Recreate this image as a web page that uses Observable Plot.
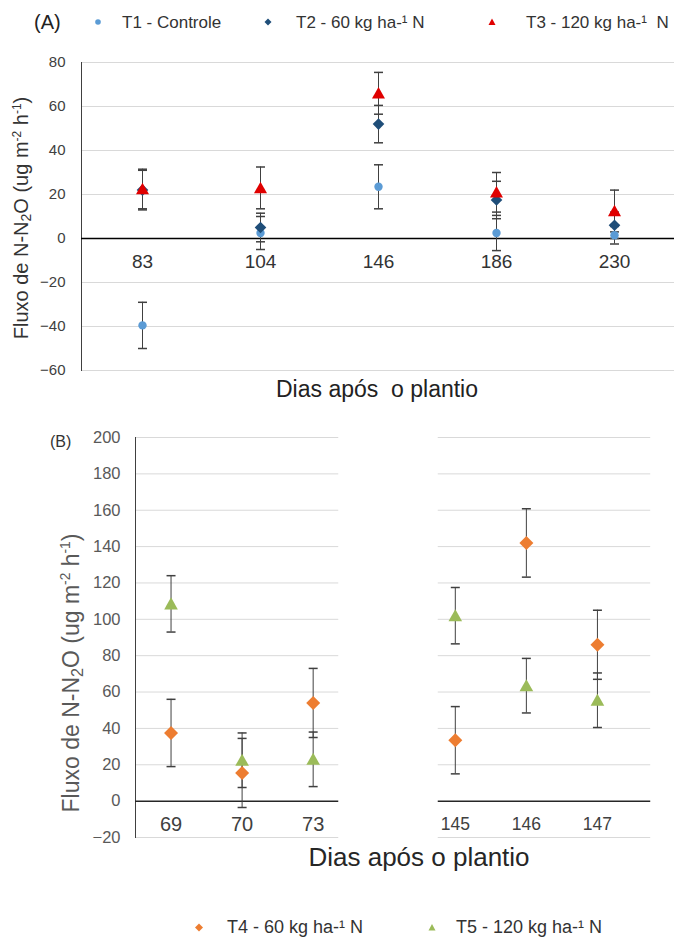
<!DOCTYPE html>
<html><head><meta charset="utf-8">
<script src="https://cdn.jsdelivr.net/npm/d3@7"></script>
<script src="https://cdn.jsdelivr.net/npm/@observablehq/plot@0.6"></script>
<style>
body{margin:0;background:#fff;font-family:Arial,"Liberation Sans",sans-serif;}
#fig{position:relative;width:674px;height:937px;overflow:hidden;background:#fff;}
.abs{position:absolute;white-space:pre;line-height:1;}
.lg{position:absolute;white-space:pre;font-size:17px;color:#333;line-height:1;}
.lgb{position:absolute;white-space:pre;font-size:18px;color:#333;line-height:1;}
.ylab{position:absolute;white-space:pre;transform:translate(-50%,-50%) rotate(-90deg);line-height:1;}
.xlab{position:absolute;white-space:pre;transform:translate(-50%,-50%);line-height:1;}
sub{font-size:70%;vertical-align:-0.25em;}
sup{font-size:60%;vertical-align:0.6em;}
#plotA{position:absolute;left:0;top:40px;}
#plotB{position:absolute;left:0;top:420px;}
</style></head><body>
<div id="fig">
  <div class="abs" style="left:34px;top:12px;font-size:20px;color:#222;">(A)</div>
  <svg class="abs" style="left:0;top:0" width="674" height="40">
    <circle cx="98" cy="22" r="2.8" fill="#5b9bd5"/>
    <path d="M268,18.5L271.5,22L268,25.5L264.5,22Z" fill="#1f4e79"/>
    <path d="M492,18.5L495.5,25L488.5,25Z" fill="#e00000"/>
  </svg>
  <div class="lg" style="left:122px;top:14px;">T1 - Controle</div>
  <div class="lg" style="left:296px;top:14px;">T2 - 60 kg ha-¹ N</div>
  <div class="lg" style="left:526px;top:14px;">T3 - 120 kg ha-¹  N</div>
  <div id="plotA"></div>
  <div class="ylab" style="left:22px;top:218px;font-size:20px;color:#333;">Fluxo de N-N<sub>2</sub>O (ug m<sup>-2</sup> h<sup>-1</sup>)</div>
  <div class="xlab" style="left:377px;top:389px;font-size:23px;color:#222;">Dias após  o plantio</div>

  <div class="abs" style="left:50px;top:434px;font-size:16px;color:#333;">(B)</div>
  <div id="plotB"></div>
  <div class="ylab" style="left:72px;top:673px;font-size:23px;color:#595959;">Fluxo de N-N<sub>2</sub>O (ug m<sup>-2</sup> h<sup>-1</sup>)</div>
  <div class="xlab" style="left:419px;top:857px;font-size:26px;color:#262626;">Dias após o plantio</div>
  <svg class="abs" style="left:0;top:900px" width="674" height="37">
    <path d="M199,23.5L203,27.5L199,31.5L195,27.5Z" fill="#ed7d31"/>
    <path d="M432,24L435.5,30.5L428.5,30.5Z" fill="#9bbb59"/>
  </svg>
  <div class="lgb" style="left:227px;top:918px;">T4 - 60 kg ha-¹ N</div>
  <div class="lgb" style="left:456px;top:918px;">T5 - 120 kg ha-¹ N</div>
</div>
<script>
// ---------- Panel A data (days after planting) ----------
const daysA = ["83", "104", "146", "186", "230"];
const t1Mean = [-39.5, 2.5, 23.5, 2.5, 1.5];
const t1Err  = [10.5, 7.5, 10, 8, 4];
const t2Mean = [22, 5, 52, 17.5, 6];
const t2Err  = [9, 6.5, 8.5, 8.5, 6];
const t3Mean = [22.5, 23, 66, 21, 12.5];
const t3Err  = [9, 9.5, 9.5, 9, 9.5];
const ticksA = [-60, -40, -20, 0, 20, 40, 60, 80];

// ---------- Panel B data ----------
const daysB  = ["69", "70", "73", "145", "146", "147"];
const slotB  = [0, 1, 2, 4, 5, 6];           // slot index on the x axis (gap between campaigns)
const t4Mean = [37.5, 15.5, 54, 33.5, 142, 86];
const t4Err  = [18.5, 19, 19, 18.5, 18.8, 19];
const t5Mean = [108.5, 22.5, 23, 102, 63.5, 55.5];
const t5Err  = [15.5, 15, 15, 15.5, 15, 15];
const ticksB = [-20, 0, 20, 40, 60, 80, 100, 120, 140, 160, 180, 200];
const segmentsB = [{x1: -0.5, x2: 2.36}, {x1: 3.76, x2: 6.75}];

// ---------- symbols ----------
const rad = s => Math.sqrt(s / Math.PI);
const capSym = {draw(c, s) { const r = rad(s); c.moveTo(-r, 0); c.lineTo(r, 0); }};
const diamondSym = {draw(c, s) { const r = rad(s); c.moveTo(0, -r); c.lineTo(r, 0); c.lineTo(0, r); c.lineTo(-r, 0); c.closePath(); }};
const triSym = {draw(c, s) { const r = rad(s); c.moveTo(0, -r); c.lineTo(r * 1.05, r * 0.85); c.lineTo(-r * 1.05, r * 0.85); c.closePath(); }};

const font = "Arial, 'Liberation Sans', sans-serif";
const errColor = "#404040";

function rows(days, mean, err, extra) {
  return days.map((d, i) => Object.assign({day: d, mean: mean[i], lo: mean[i] - err[i], hi: mean[i] + err[i]}, extra ? extra(i) : {}));
}

// ---------- Panel A ----------
const A1 = rows(daysA, t1Mean, t1Err), A2 = rows(daysA, t2Mean, t2Err), A3 = rows(daysA, t3Mean, t3Err);
const errA = [...A1, ...A2, ...A3];
const plotA = Plot.plot({
  width: 674, height: 345,
  marginTop: 22, marginBottom: 15, marginLeft: 81, marginRight: 0,
  x: {type: "point", domain: daysA, padding: 0.5, axis: null},
  y: {domain: [-60, 80], axis: null},
  style: {fontFamily: font, background: "transparent", overflow: "visible"},
  marks: [
    Plot.gridY(ticksA, {stroke: "#d9d9d9", strokeOpacity: 1}),
    Plot.axisY(ticksA, {tickSize: 0, tickPadding: 16, fontSize: 15, color: "#404040", label: null}),
    Plot.frame({anchor: "left", stroke: "#404040"}),
    Plot.ruleY([0], {stroke: "#000", strokeWidth: 1.5}),
    Plot.text(daysA, {x: d => d, y: () => 0, dy: 23, text: d => d, fontSize: 19, fill: "#333"}),
    Plot.ruleX(errA, {x: "day", y1: "lo", y2: "hi", stroke: errColor}),
    Plot.dot(errA, {x: "day", y: "lo", symbol: capSym, r: 4.5, stroke: errColor, fill: "none"}),
    Plot.dot(errA, {x: "day", y: "hi", symbol: capSym, r: 4.5, stroke: errColor, fill: "none"}),
    Plot.dot(A1, {x: "day", y: "mean", r: 4.2, fill: "#5b9bd5", symbol: "circle"}),
    Plot.dot(A2, {x: "day", y: "mean", r: 5.8, fill: "#1f4e79", symbol: diamondSym}),
    Plot.dot(A3, {x: "day", y: "mean", r: 6.2, fill: "#e00000", symbol: triSym})
  ]
});
document.getElementById("plotA").append(plotA);

// ---------- Panel B ----------
const B4 = rows(daysB, t4Mean, t4Err, i => ({slot: slotB[i]}));
const B5 = rows(daysB, t5Mean, t5Err, i => ({slot: slotB[i]}));
const errB = [...B4, ...B5];
const gridB = segmentsB.flatMap(s => ticksB.map(t => ({...s, y: t})));
const plotB = Plot.plot({
  width: 674, height: 430,
  marginTop: 17, marginBottom: 13, marginLeft: 135, marginRight: 6,
  x: {domain: [-0.5, 7], axis: null},
  y: {domain: [-20, 200], axis: null},
  style: {fontFamily: font, background: "transparent", overflow: "visible"},
  marks: [
    Plot.ruleY(gridB.filter(d => d.y !== 0), {y: "y", x1: "x1", x2: "x2", stroke: "#d9d9d9"}),
    Plot.axisY(ticksB, {tickSize: 0, tickPadding: 15, fontSize: 16.5, color: "#595959", label: null}),
    Plot.frame({anchor: "left", stroke: "#404040"}),
    Plot.ruleY(segmentsB, {y: () => 0, x1: "x1", x2: "x2", stroke: "#262626", strokeWidth: 1.5}),
    Plot.text(daysB, {x: (d, i) => slotB[i], y: () => 0, dy: 23, text: d => d, fontSize: (d, i) => slotB[i] < 3 ? 20 : 17.5, fill: "#404040"}),
    Plot.ruleX(errB, {x: "slot", y1: "lo", y2: "hi", stroke: errColor}),
    Plot.dot(errB, {x: "slot", y: "lo", symbol: capSym, r: 4.5, stroke: errColor, fill: "none"}),
    Plot.dot(errB, {x: "slot", y: "hi", symbol: capSym, r: 4.5, stroke: errColor, fill: "none"}),
    Plot.dot(B4, {x: "slot", y: "mean", r: 7, fill: "#ed7d31", symbol: diamondSym}),
    Plot.dot(B5, {x: "slot", y: "mean", r: 6.5, fill: "#9bbb59", symbol: triSym})
  ]
});
document.getElementById("plotB").append(plotB);
</script>
</body></html>
